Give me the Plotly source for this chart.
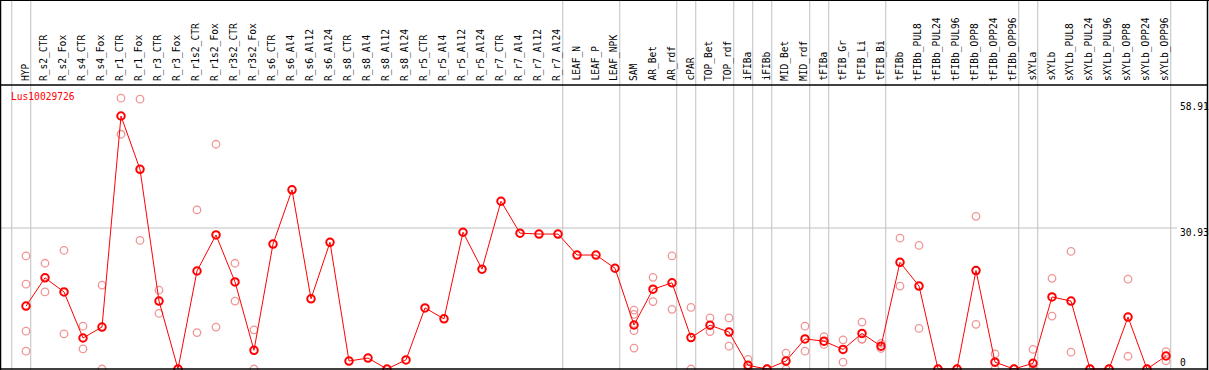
import plotly.graph_objects as go

categories = ["HYP", "R_s2_CTR", "R_s2_Fox", "R_s4_CTR", "R_s4_Fox", "R_r1_CTR", "R_r1_Fox",
              "R_r3_CTR", "R_r3_Fox", "R_r1s2_CTR", "R_r1s2_Fox", "R_r3s2_CTR", "R_r3s2_Fox",
              "R_s6_CTR", "R_s6_Al4", "R_s6_Al12", "R_s6_Al24", "R_s8_CTR", "R_s8_Al4", "R_s8_Al12",
              "R_s8_Al24", "R_r5_CTR", "R_r5_Al4", "R_r5_Al12", "R_r5_Al24", "R_r7_CTR", "R_r7_Al4",
              "R_r7_Al12", "R_r7_Al24", "LEAF_N", "LEAF_P", "LEAF_NPK", "SAM", "AR_Bet", "AR_rdf",
              "cPAR", "TOP_Bet", "TOP_rdf", "iFIBa", "iFIBb", "MID_Bet", "MID_rdf", "tFIBa",
              "tFIB_Gr", "tFIB_Li", "tFIB_Bi", "tFIBb", "tFIBb_PUL8", "tFIBb_PUL24", "tFIBb_PUL96",
              "tFIBb_OPP8", "tFIBb_OPP24", "tFIBb_OPP96", "sXYLa", "sXYLb", "sXYLb_PUL8",
              "sXYLb_PUL24", "sXYLb_PUL96", "sXYLb_OPP8", "sXYLb_OPP24", "sXYLb_OPP96"]

mean_values = [13.8, 20.0, 16.9, 6.8, 9.2, 55.5, 43.8, 14.9, 0, 21.5, 29.4, 19.1, 4.1,
               27.4, 39.3, 15.4, 27.8, 1.75, 2.4, 0, 2.0, 13.4, 11.0, 30.0, 21.9, 36.8, 29.8,
               29.6, 29.6, 25.0, 25.0, 22.1, 9.65, 17.5, 18.9, 6.9, 9.6, 8.1, 0.8, 0, 1.75,
               6.6, 6.1, 4.3, 7.8, 5.0, 23.4, 18.2, 0, 0, 21.6, 1.5, 0, 1.25, 15.8, 14.9,
               0, 0, 11.4, 0, 2.85]

replicates = [[24.8, 18.6, 8.3, 3.9], [23.2, 16.9], [26.0, 7.7], [9.4, 4.4], [18.4, 0],
              [59.4, 51.5], [59.2, 28.2], [17.3, 12.2], [0, 0], [34.9, 8.0], [49.3, 9.2],
              [23.2, 14.9], [8.6, 0],
              [], [], [], [], [], [], [], [], [], [], [], [], [], [], [], [], [], [], [],
              [12.9, 12.0, 8.4, 4.6], [20.1, 14.8], [24.8, 13.1], [13.5, 0], [11.2, 8.2],
              [11.2, 5.0], [2.1, 0.2, 0.1], [0, 0], [3.5, 0], [9.4, 3.9], [7.1, 5.4],
              [6.4, 1.5], [10.3, 6.6, 6.5], [5.6, 4.5], [28.7, 18.2], [27.1, 8.9], [0, 0],
              [0, 0], [33.5, 9.8], [3.3, 0], [0, 0], [4.3, 0, 0], [19.9, 11.6], [25.8, 3.7],
              [0, 0], [0, 0], [19.7, 2.8], [0, 0], [3.8, 1.8]]

separator_after = [-1, 0, 28, 31, 34, 35, 37, 38, 39, 41, 42, 45, 52, 53, 60]
tick_values = [58.91, 30.93, 0]
gene_name = "Lus10029726"

W, H = 1209, 370
FONT = "DejaVu Sans Mono"
FS = 9.6

idx = list(range(len(categories)))
rep_x, rep_y = [], []
for i, reps in enumerate(replicates):
    for v in reps:
        rep_x.append(i)
        rep_y.append(v)

fig = go.Figure()
fig.add_trace(go.Scatter(x=rep_x, y=rep_y, mode="markers",
                         marker=dict(symbol="circle-open", size=7.5, color="rgb(240,150,150)",
                                     line=dict(width=1.3)),
                         hoverinfo="skip", showlegend=False, cliponaxis=False))
fig.add_trace(go.Scatter(x=idx, y=mean_values, mode="lines+markers",
                         line=dict(color="red", width=1),
                         marker=dict(symbol="circle-open", size=7.5, color="red",
                                     line=dict(width=2)),
                         text=categories, showlegend=False, cliponaxis=False))

# pixel -> data mappings
px_per_cat = 19.0
x0_px = 26.0
x_lo = (0 - x0_px) / px_per_cat
x_hi = (W - x0_px) / px_per_cat
zero_py = 369.0
px_per_unit = (369.0 - 228.0) / 30.93
y_lo = (zero_py - H) / px_per_unit
y_hi = zero_py / px_per_unit

def py(p):
    return 1 - p / H

shapes = []
for s in separator_after:
    shapes.append(dict(type="line", xref="x", yref="paper", x0=s + 0.25, x1=s + 0.25,
                       y0=0, y1=1, line=dict(color="#c0c0c0", width=1), layer="below"))
shapes.append(dict(type="line", xref="paper", yref="y", x0=0, x1=1177 / W,
                   y0=tick_values[1], y1=tick_values[1],
                   line=dict(color="#c0c0c0", width=1), layer="below"))
# frame
shapes.append(dict(type="line", xref="paper", yref="paper", x0=0, x1=1, y0=1, y1=1,
                   line=dict(color="black", width=2)))
shapes.append(dict(type="line", xref="paper", yref="paper", x0=0, x1=1207.5 / W,
                   y0=py(85), y1=py(85), line=dict(color="black", width=1.5)))
shapes.append(dict(type="line", xref="paper", yref="paper", x0=0, x1=1207.5 / W,
                   y0=py(369), y1=py(369), line=dict(color="black", width=1.5)))
shapes.append(dict(type="line", xref="paper", yref="paper", x0=0.5 / W, x1=0.5 / W,
                   y0=0, y1=1, line=dict(color="black", width=1.5)))
shapes.append(dict(type="line", xref="paper", yref="paper", x0=1207.5 / W, x1=1207.5 / W,
                   y0=0, y1=1, line=dict(color="black", width=1.5)))

annotations = []
for i, c in enumerate(categories):
    annotations.append(dict(x=i - 0.05, xref="x", y=py(83), yref="paper", text=c,
                            textangle=-90, showarrow=False, xanchor="center", yanchor="bottom",
                            font=dict(family=FONT, size=FS, color="black")))
label_py = [106.7, 232.3, 362]
for v, p in zip(tick_values, label_py):
    annotations.append(dict(x=1178 / W, xref="paper", y=py(p), yref="paper",
                            text=("%g" % v) if v == 0 else "%.2f" % v, showarrow=False,
                            xanchor="left", yanchor="middle",
                            font=dict(family=FONT, size=FS, color="black")))
annotations.append(dict(x=9 / W, xref="paper", y=py(96.7), yref="paper", text=gene_name,
                        showarrow=False, xanchor="left", yanchor="middle",
                        font=dict(family=FONT, size=FS, color="red")))

fig.update_layout(
    width=W, height=H, margin=dict(l=0, r=0, t=0, b=0),
    paper_bgcolor="white", plot_bgcolor="white",
    xaxis=dict(range=[x_lo, x_hi], visible=False, domain=[0, 1]),
    yaxis=dict(range=[y_lo, y_hi], visible=False, domain=[0, 1]),
    shapes=shapes, annotations=annotations, showlegend=False,
)

fig.write_html("out.html", config={"displayModeBar": False},
               post_script="document.body.style.margin='0';document.body.style.padding='0';"
                           "document.body.style.overflow='hidden';")
